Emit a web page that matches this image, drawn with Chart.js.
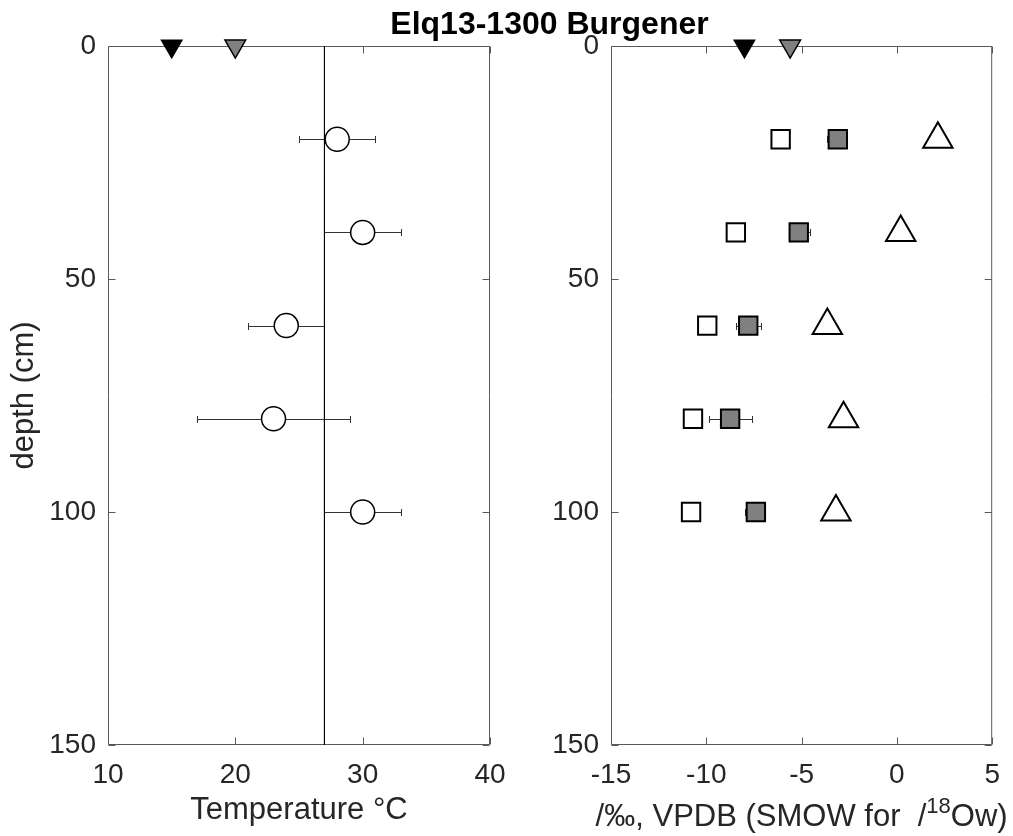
<!DOCTYPE html>
<html>
<head>
<meta charset="utf-8">
<script src="https://cdn.jsdelivr.net/npm/chart.js@4/dist/chart.umd.min.js"></script>
<style>
  html, body { margin: 0; padding: 0; background: #fff; }
  #wrap { position: relative; width: 1013px; height: 836px; overflow: hidden; background: #fff; }
  #wrap canvas { position: absolute; left: 0; top: 0; }
  #title {
    position: absolute; top: 7px; left: 549.5px; transform: translateX(-50%);
    font: bold 32px/32px "Liberation Sans", Arial, sans-serif; color: #000; white-space: nowrap;
  }
</style>
</head>
<body>
<div id="wrap">
  <canvas id="tempChart" width="1013" height="836"></canvas>
  <canvas id="isoChart" width="1013" height="836"></canvas>
  <div id="title">Elq13-1300 Burgener</div>
</div>
<script>
// Sample depths (cm)
const depths = [20, 40, 60, 80, 100];

// Soil temperature profile (°C) with symmetric uncertainty
const soilTemp = [28, 30, 24, 23, 30];
const soilTempErr = [3, 3, 3, 6, 3];
const meanTemp = 27;
// Surface reference temperatures (black, gray triangles)
const surfaceTemp = [15, 20];

// Isotope profiles (‰)
const d18Oc = [-6.1, -8.45, -9.95, -10.7, -10.8];        // open squares
const d13Cc = [-3.1, -5.15, -7.8, -8.75, -7.4];          // gray squares
const d13CcErrMinus = [0.58, 0.3, 0.65, 1.1, 0.55];
const d13CcErrPlus = [0.3, 0.58, 0.65, 1.17, 0.3];
const d18Ow = [2.15, 0.2, -3.65, -2.8, -3.2];            // open triangles
// Surface reference values (black, gray triangles)
const surfaceIso = [-8, -5.6];

// Tick values
const depthTicks = [0, 50, 100, 150];
const tempTicks = [10, 20, 30, 40];
const isoTicks = [-15, -10, -5, 0, 5];

// Axis titles
const depthLabel = 'depth (cm)';
const tempLabel = 'Temperature °C';
const isoLabelParts = ['/‰, VPDB (SMOW for  /', '18', 'Ow)'];

const FONT = "'Liberation Sans', Arial, sans-serif";
const AXIS_COLOR = '#262626';
const FRAME_COLOR = '#595959';

// Box around the plot area with inward ticks on all sides, plus horizontal error bars
const framePlugin = {
  id: 'frame',
  beforeDatasetsDraw(chart) {
    const { ctx, chartArea: a, scales: { x, y } } = chart;
    const L = a.left + 0.5, R = a.right - 0.5, T = a.top + 0.5, B = a.bottom - 0.5;
    const tl = 7;
    ctx.save();
    ctx.strokeStyle = FRAME_COLOR;
    ctx.lineWidth = 1;
    ctx.beginPath();
    ctx.rect(L, T, R - L, B - T);
    x.ticks.forEach(t => {
      const px = Math.round(x.getPixelForValue(t.value)) + 0.5;
      ctx.moveTo(px, B); ctx.lineTo(px, B - tl);
      ctx.moveTo(px, T); ctx.lineTo(px, T + tl);
    });
    y.ticks.forEach(t => {
      const py = Math.round(y.getPixelForValue(t.value)) + 0.5;
      ctx.moveTo(L, py); ctx.lineTo(L + tl, py);
      ctx.moveTo(R, py); ctx.lineTo(R - tl, py);
    });
    ctx.stroke();

    ctx.strokeStyle = '#333';
    ctx.lineWidth = 1;
    chart.data.datasets.forEach(ds => {
      if (!ds.errMinus) return;
      ds.data.forEach((p, j) => {
        const x0 = Math.round(x.getPixelForValue(p.x - ds.errMinus[j])) + 0.5;
        const x1 = Math.round(x.getPixelForValue(p.x + ds.errPlus[j])) + 0.5;
        const py = Math.round(y.getPixelForValue(p.y)) + 0.5;
        ctx.beginPath();
        ctx.moveTo(x0, py); ctx.lineTo(x1, py);
        ctx.moveTo(x0, py - 3.5); ctx.lineTo(x0, py + 3.5);
        ctx.moveTo(x1, py - 3.5); ctx.lineTo(x1, py + 3.5);
        ctx.stroke();
      });
    });
    ctx.restore();
  }
};

// Axis title with a superscript part, centred under the x scale
const richTitlePlugin = {
  id: 'richTitle',
  afterDraw(chart, args, opts) {
    if (!opts || !opts.parts) return;
    const { ctx, scales: { x } } = chart;
    const styles = opts.styles;
    ctx.save();
    ctx.fillStyle = AXIS_COLOR;
    ctx.textBaseline = 'alphabetic';
    ctx.textAlign = 'left';
    const widths = opts.parts.map((t, i) => {
      ctx.font = styles[i].size + 'px ' + FONT;
      return ctx.measureText(t).width;
    });
    const total = widths.reduce((s, w) => s + w, 0);
    let cx = (x.left + x.right) / 2 - total / 2;
    const base = x.bottom - opts.bottomGap;
    opts.parts.forEach((t, i) => {
      ctx.font = styles[i].size + 'px ' + FONT;
      ctx.fillText(t, cx, base - styles[i].rise);
      cx += widths[i];
    });
    ctx.restore();
  }
};

const pts = (xs) => xs.map((v, i) => ({ x: v, y: depths[i] }));

function yScale(showTitle) {
  return {
    type: 'linear',
    reverse: true,
    min: depthTicks[0],
    max: depthTicks[depthTicks.length - 1],
    afterBuildTicks: s => { s.ticks = depthTicks.map(v => ({ value: v })); },
    afterFit: s => { s.width = 108; },
    grid: { display: false, drawTicks: false },
    border: { display: false },
    ticks: { color: AXIS_COLOR, font: { size: 28, family: FONT }, padding: 12 },
    title: {
      display: showTitle, text: depthLabel, color: AXIS_COLOR,
      font: { size: 31, family: FONT }, padding: { top: 6, bottom: 0 }
    }
  };
}

function xScale(ticksArr, titleText) {
  return {
    type: 'linear',
    min: ticksArr[0],
    max: ticksArr[ticksArr.length - 1],
    afterBuildTicks: s => { s.ticks = ticksArr.map(v => ({ value: v })); },
    afterFit: s => { s.height = 91; },
    grid: { display: false, drawTicks: false },
    border: { display: false },
    ticks: { color: AXIS_COLOR, font: { size: 28, family: FONT }, padding: 13, maxRotation: 0 },
    title: {
      display: !!titleText, text: titleText || '', color: AXIS_COLOR,
      font: { size: 31, family: FONT }, padding: { top: 0, bottom: 7 }
    }
  };
}

const common = {
  responsive: false,
  animation: false,
  events: [],
  plugins: { legend: { display: false }, tooltip: { enabled: false }, title: { display: false } }
};

new Chart(document.getElementById('tempChart'), {
  type: 'scatter',
  data: {
    datasets: [
      {
        data: pts(soilTemp), errMinus: soilTempErr, errPlus: soilTempErr,
        pointStyle: 'circle', pointRadius: 12,
        pointBackgroundColor: '#fff', pointBorderColor: '#000', pointBorderWidth: 1.5
      },
      {
        data: [{ x: surfaceTemp[0], y: depthTicks[0] }], clip: false,
        pointStyle: 'triangle', pointRotation: 180, pointRadius: 12,
        pointBackgroundColor: '#000', pointBorderColor: '#000', pointBorderWidth: 1.2
      },
      {
        data: [{ x: surfaceTemp[1], y: depthTicks[0] }], clip: false,
        pointStyle: 'triangle', pointRotation: 180, pointRadius: 12,
        pointBackgroundColor: '#808080', pointBorderColor: '#000', pointBorderWidth: 1.5
      },
      {
        data: [{ x: meanTemp, y: depthTicks[0] }, { x: meanTemp, y: depthTicks[depthTicks.length - 1] }],
        showLine: true, pointRadius: 0, borderColor: '#000', borderWidth: 1
      }
    ]
  },
  options: Object.assign({}, common, {
    layout: { padding: { top: 46, left: 0, right: 523, bottom: 0 } },
    scales: { x: xScale(tempTicks, tempLabel), y: yScale(true) }
  }),
  plugins: [framePlugin]
});

new Chart(document.getElementById('isoChart'), {
  type: 'scatter',
  data: {
    datasets: [
      {
        data: pts(d18Oc),
        pointStyle: 'rect', pointRadius: 13,
        pointBackgroundColor: '#fff', pointBorderColor: '#000', pointBorderWidth: 2
      },
      {
        data: pts(d13Cc), errMinus: d13CcErrMinus, errPlus: d13CcErrPlus,
        pointStyle: 'rect', pointRadius: 13,
        pointBackgroundColor: '#808080', pointBorderColor: '#000', pointBorderWidth: 2
      },
      {
        data: pts(d18Ow),
        pointStyle: 'triangle', pointRadius: 17,
        pointBackgroundColor: '#fff', pointBorderColor: '#000', pointBorderWidth: 2
      },
      {
        data: [{ x: surfaceIso[0], y: depthTicks[0] }], clip: false,
        pointStyle: 'triangle', pointRotation: 180, pointRadius: 12,
        pointBackgroundColor: '#000', pointBorderColor: '#000', pointBorderWidth: 1.2
      },
      {
        data: [{ x: surfaceIso[1], y: depthTicks[0] }], clip: false,
        pointStyle: 'triangle', pointRotation: 180, pointRadius: 12,
        pointBackgroundColor: '#808080', pointBorderColor: '#000', pointBorderWidth: 1.5
      }
    ]
  },
  options: Object.assign({}, common, {
    layout: { padding: { top: 46, left: 503, right: 20, bottom: 0 } },
    scales: { x: xScale(isoTicks, null), y: yScale(false) },
    plugins: Object.assign({}, common.plugins, {
      richTitle: {
        parts: isoLabelParts,
        styles: [{ size: 31, rise: 0 }, { size: 22, rise: 13 }, { size: 31, rise: 0 }],
        bottomGap: 10
      }
    })
  }),
  plugins: [framePlugin, richTitlePlugin]
});
</script>
</body>
</html>
